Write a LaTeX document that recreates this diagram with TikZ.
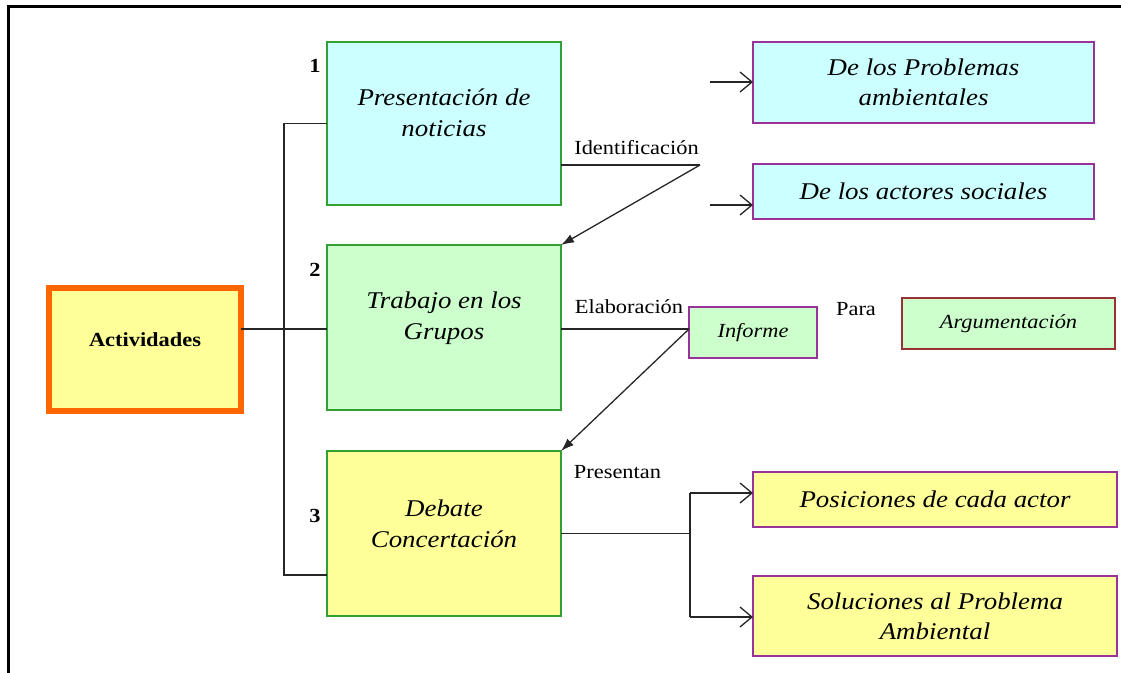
\documentclass[tikz,border=0pt]{standalone}
\usepackage{fontspec}
\setmainfont{Liberation Serif}[FakeStretch=1.12]
\usetikzlibrary{arrows.meta}
\definecolor{cyanfill}{HTML}{CCFFFF}
\definecolor{greenfill}{HTML}{CCFFCC}
\definecolor{yellowfill}{HTML}{FFFF99}
\definecolor{greenline}{HTML}{33A033}
\definecolor{purpleline}{HTML}{993399}
\definecolor{redline}{HTML}{993333}
\definecolor{orangeline}{HTML}{FF6600}
\tikzset{
  box/.style={draw, line width=1.4pt, inner sep=0pt, outer sep=0pt, align=center},
  mainbox/.style={box, draw=greenline, minimum width=234pt},
  sidebox/.style={box, draw=purpleline, font=\fontsize{24}{30}\selectfont\itshape},
  maintext/.style={align=center, inner sep=0pt, font=\fontsize{24}{31}\selectfont\itshape},
  lbl/.style={inner sep=0pt, font=\fontsize{20}{24}\selectfont},
  num/.style={inner sep=0pt, font=\fontsize{20}{24}\selectfont\bfseries},
  conn/.style={line width=1.3pt, draw=black!85},
  openarrow/.style={conn, -{Straight Barb[length=12pt,width=20pt,line width=1.3pt]}},
  filledarrow/.style={conn, -{Latex[length=13pt,width=9pt]}},
}
\begin{document}
\begin{tikzpicture}[x=1pt,y=-1pt]
\useasboundingbox (0,0) rectangle (1121,672);
% outer frame
\draw[line width=3pt] (8,674) -- (8,6) -- (1123,6);

% left box
\node[box, draw=orangeline, line width=6pt, fill=yellowfill, minimum width=192pt, minimum height=123pt,
      font=\fontsize{20}{24}\selectfont\bfseries, text height=14pt, text depth=21pt] (act) at (145,349.5) {Actividades};

% main boxes
\node[mainbox, fill=cyanfill, minimum height=163pt] (p1) at (444,123.5) {};
\node[mainbox, fill=greenfill, minimum height=165pt] (p2) at (444,327.5) {};
\node[mainbox, fill=yellowfill, minimum height=165pt] (p3) at (444,533.5) {};
\node[maintext] (p1t) at (444,112.5) {Presentación de\\noticias};
\node[maintext] (p2t) at (444,318) {Trabajo en los\\Grupos};
\node[maintext] (p3t) at (444,523.5) {Debate\\Concertación};

\node[num] (n1) at (315,66) {1};
\node[num] (n2) at (315,270) {2};
\node[num] (n3) at (315,516) {3};

% right boxes
\node[sidebox, fill=cyanfill, minimum width=341pt, minimum height=81pt] (prob) at (923.5,82.5) {De los Problemas\\ambientales};
\node[sidebox, fill=cyanfill, minimum width=341pt, minimum height=55pt] (actores) at (923.5,191.5) {De los actores sociales};
\node[box, draw=purpleline, fill=greenfill, minimum width=128pt, minimum height=51pt,
      font=\fontsize{20}{24}\selectfont\itshape] (informe) at (753,332.5) {Informe};
\node[box, draw=redline, fill=greenfill, minimum width=213pt, minimum height=51pt,
      font=\fontsize{20}{24}\selectfont\itshape] (arg) at (1008.5,323.5) {Argumentación};
\node[sidebox, fill=yellowfill, minimum width=364pt, minimum height=55pt] (pos) at (935,499.5) {Posiciones de cada actor};
\node[sidebox, fill=yellowfill, minimum width=364pt, minimum height=80pt] (sol) at (935,616) {Soluciones al Problema\\Ambiental};

% labels
\node[lbl] (lid) at (636.5,148) {Identificación};
\node[lbl] (lel) at (629,307) {Elaboración};
\node[lbl] (lpa) at (856,309) {Para};
\node[lbl] (lpr) at (617.5,472) {Presentan};

% coordinates
\coordinate (bt) at (284,123.5);
\coordinate (bb) at (284,575);
\coordinate (actc) at (241,329);
\coordinate (idj) at (700,165);
\coordinate (elj) at (689,329);
\coordinate (prj) at (690,533.5);
\coordinate (prjt) at (690,493);
\coordinate (prjb) at (690,617);
\coordinate (a1s) at (710,82);
\coordinate (a2s) at (710,205);

% bracket
\draw[conn] (p1.west) -- (bt) -- (bb) -- (bb -| p3.west);
\draw[conn] (actc) -- (actc -| p2.west);

% identificacion
\draw[conn] (idj -| p1.east) -- (idj);
\draw[filledarrow] (idj) -- (p2.north east);
\draw[openarrow] (a1s) -- (a1s -| prob.west);
\draw[openarrow] (a2s) -- (a2s -| actores.west);

% elaboracion
\draw[conn] (elj -| p2.east) -- (elj);
\draw[filledarrow] (elj) -- (p3.north east);

% presentan
\draw[conn] (p3.east) -- (prj);
\draw[conn] (prjt) -- (prjb);
\draw[openarrow] (prjt) -- (prjt -| pos.west);
\draw[openarrow] (prjb) -- (prjb -| sol.west);
\end{tikzpicture}
\end{document}
